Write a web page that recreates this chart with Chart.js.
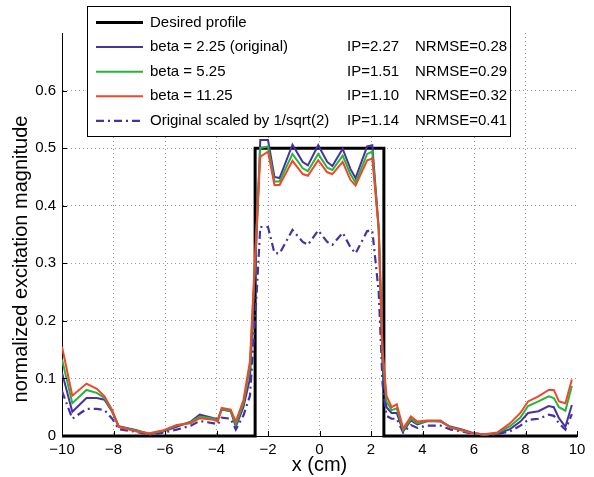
<!DOCTYPE html>
<html>
<head>
<meta charset="utf-8">
<script src="https://cdn.jsdelivr.net/npm/chart.js@4/dist/chart.umd.min.js"></script>
<style>
  html, body { margin: 0; padding: 0; background: #fff; }
  #wrap { width: 594px; height: 477px; position: relative; }
</style>
</head>
<body>
<div id="wrap"><canvas id="chart"></canvas></div>
<script>
// x positions (cm) shared by the four simulated profiles
const xs = [-10, -9.6, -9.05, -8.65, -8.35, -8.05, -7.8, -7.1, -6.6, -6.05,
  -5.55, -5.0, -4.65, -4.1, -3.95, -3.8, -3.45, -3.25, -2.95, -2.7,
  -2.45, -2.3, -2.0, -1.75, -1.55, -1.05, -0.65, -0.45, -0.05, 0.3,
  0.5, 0.9, 1.2, 1.4, 1.85, 2.05, 2.3, 2.45, 2.6, 2.8,
  3.0, 3.25, 3.55, 3.8, 4.2, 4.7, 5.1, 5.5, 5.9, 6.4,
  6.9, 7.4, 7.8, 8.1, 8.5, 8.9, 9.1, 9.3, 9.55, 9.8];

const beta225 = [0.11, 0.042, 0.066, 0.066, 0.063, 0.042, 0.017, 0.010, 0.003, 0.008,
  0.016, 0.025, 0.037, 0.031, 0.029, 0.046, 0.043, 0.016, 0.051, 0.10,
  0.34, 0.514, 0.514, 0.45, 0.448, 0.506, 0.476, 0.47, 0.505, 0.476,
  0.469, 0.499, 0.464, 0.448, 0.503, 0.505, 0.36, 0.12, 0.05, 0.04,
  0.04, 0.008, 0.027, 0.02, 0.026, 0.025, 0.016, 0.012, 0.006, 0.002,
  0.004, 0.012, 0.025, 0.04, 0.043, 0.052, 0.05, 0.031, 0.016, 0.054];

const beta525 = [0.133, 0.057, 0.080, 0.075, 0.066, 0.043, 0.016, 0.009, 0.004, 0.009,
  0.018, 0.024, 0.034, 0.030, 0.027, 0.047, 0.044, 0.020, 0.057, 0.12,
  0.35, 0.50, 0.503, 0.442, 0.442, 0.49, 0.465, 0.46, 0.49, 0.466,
  0.462, 0.487, 0.455, 0.44, 0.49, 0.494, 0.36, 0.14, 0.06, 0.045,
  0.048, 0.01, 0.03, 0.022, 0.026, 0.026, 0.015, 0.011, 0.005, 0.002,
  0.005, 0.017, 0.032, 0.052, 0.06, 0.069, 0.066, 0.05, 0.044, 0.087];

const beta1125 = [0.155, 0.07, 0.091, 0.082, 0.069, 0.045, 0.016, 0.008, 0.005, 0.010,
  0.019, 0.022, 0.031, 0.028, 0.025, 0.049, 0.046, 0.025, 0.063, 0.13,
  0.36, 0.485, 0.494, 0.436, 0.436, 0.478, 0.455, 0.452, 0.479, 0.458,
  0.455, 0.476, 0.445, 0.435, 0.479, 0.482, 0.36, 0.15, 0.07, 0.05,
  0.055, 0.013, 0.034, 0.025, 0.027, 0.027, 0.014, 0.01, 0.005, 0.003,
  0.006, 0.022, 0.04, 0.06, 0.069, 0.08, 0.08, 0.06, 0.057, 0.098];

const scaledOriginal = [0.078, 0.03, 0.047, 0.047, 0.045, 0.03, 0.012, 0.007, 0.002, 0.006,
  0.011, 0.018, 0.026, 0.022, 0.02, 0.032, 0.03, 0.011, 0.036, 0.07,
  0.24, 0.363, 0.363, 0.318, 0.317, 0.358, 0.337, 0.332, 0.357, 0.337,
  0.332, 0.353, 0.328, 0.317, 0.356, 0.357, 0.25, 0.09, 0.035, 0.03,
  0.03, 0.006, 0.019, 0.014, 0.018, 0.018, 0.011, 0.008, 0.004, 0.001,
  0.003, 0.008, 0.018, 0.028, 0.03, 0.037, 0.035, 0.022, 0.011, 0.038];

// desired rectangular profile
const desiredX = [-10, -2.5, -2.5, 2.5, 2.5, 10];
const desiredY = [0, 0, 0.5, 0.5, 0, 0];

const legendLabels = ['Desired profile', 'beta = 2.25 (original)', 'beta = 5.25',
  'beta = 11.25', 'Original scaled by 1/sqrt(2)'];
const ipValues = [null, 2.27, 1.51, 1.10, 1.14];
const nrmseValues = [null, 0.28, 0.29, 0.32, 0.41];

const yTitle = 'normalized excitation magnitude';
const xTitle = 'x (cm)';

const FONT = "'Liberation Sans', Arial, Helvetica, sans-serif";

function pairs(xv, yv) {
  return xv.map((x, i) => ({ x: x, y: yv[i] }));
}

const datasets = [
  { label: legendLabels[0], data: pairs(desiredX, desiredY), borderColor: '#000', borderWidth: 3, order: 4, clip: false },
  { label: legendLabels[1], data: pairs(xs, beta225), borderColor: '#4632a0', borderWidth: 2, order: 2 },
  { label: legendLabels[2], data: pairs(xs, beta525), borderColor: '#26b43a', borderWidth: 2, order: 1 },
  { label: legendLabels[3], data: pairs(xs, beta1125), borderColor: '#f0462a', borderWidth: 2, order: 0 },
  { label: legendLabels[4], data: pairs(xs, scaledOriginal), borderColor: '#4632a0', borderWidth: 2.2, borderDash: [8, 4, 2, 4], order: 3 }
];

// inward tick marks, y label, and the boxed legend with its extra columns
const extrasPlugin = {
  id: 'extras',
  afterDraw(chart) {
    const ctx = chart.ctx;
    const area = chart.chartArea;
    const xs_ = chart.scales.x, ys_ = chart.scales.y;
    ctx.save();
    ctx.strokeStyle = '#000';
    ctx.lineWidth = 1;
    ctx.beginPath();
    xs_.ticks.forEach(t => {
      const px = Math.round(xs_.getPixelForValue(t.value)) + 0.5;
      ctx.moveTo(px, area.bottom);
      ctx.lineTo(px, area.bottom - 5);
    });
    ys_.ticks.forEach(t => {
      if (t.value > 0.65) return;
      const py = Math.round(ys_.getPixelForValue(t.value)) + 0.5;
      ctx.moveTo(area.left, py);
      ctx.lineTo(area.left + 5, py);
    });
    ctx.stroke();

    // y axis label (sits a bit below the axis centre, as in the original)
    ctx.save();
    ctx.translate(21, 259);
    ctx.rotate(-Math.PI / 2);
    ctx.font = '20px ' + FONT;
    ctx.textAlign = 'center';
    ctx.textBaseline = 'middle';
    ctx.fillStyle = '#000';
    ctx.fillText(yTitle, 0, 0);
    ctx.restore();

    // legend box
    const bx = 87.5, by = 6.5, bw = 423, bh = 130;
    ctx.fillStyle = '#fff';
    ctx.fillRect(bx, by, bw, bh);
    ctx.strokeRect(bx, by, bw, bh);
    ctx.font = '15px ' + FONT;
    ctx.textBaseline = 'middle';
    ctx.fillStyle = '#000';
    chart.data.datasets.forEach((ds, i) => {
      const ry = 22.5 + i * 24.6;
      ctx.save();
      ctx.strokeStyle = ds.borderColor;
      ctx.lineWidth = ds.borderWidth;
      ctx.setLineDash(ds.borderDash || []);
      ctx.beginPath();
      ctx.moveTo(96, ry);
      ctx.lineTo(143, ry);
      ctx.stroke();
      ctx.restore();
      ctx.fillText(legendLabels[i], 150, ry);
      if (ipValues[i] != null) {
        ctx.fillText('IP=' + ipValues[i].toFixed(2), 347, ry);
        ctx.fillText('NRMSE=' + nrmseValues[i].toFixed(2), 415, ry);
      }
    });
    ctx.restore();
  }
};

new Chart(document.getElementById('chart'), {
  type: 'line',
  data: { datasets: datasets },
  options: {
    responsive: true,
    maintainAspectRatio: false,
    animation: false,
    layout: { padding: { top: 33, right: 17, left: 0, bottom: 0 } },
    elements: { point: { radius: 0 }, line: { tension: 0, fill: false } },
    plugins: { legend: { display: false }, tooltip: { enabled: false } },
    scales: {
      x: {
        type: 'linear', min: -10, max: 10,
        afterFit: s => { s.height = 41; },
        ticks: {
          stepSize: 2, padding: 5, color: '#000', font: { family: FONT, size: 15 },
          callback: v => (v < 0 ? '\u2212' + Math.abs(v) : String(v))
        },
        grid: {
          drawTicks: false,
          color: c => (c.tick && (c.tick.value === 10 || c.tick.value === -10) ? 'rgba(0,0,0,0)' : '#9a9a9a')
        },
        border: { display: true, color: '#000', width: 1, dash: [1, 3] },
        title: { display: true, text: xTitle, color: '#000', font: { family: FONT, size: 20 }, padding: { top: 0, bottom: 0 } }
      },
      y: {
        min: 0, max: 0.7,
        afterFit: s => { s.width = 62; },
        ticks: {
          stepSize: 0.1, padding: 6, color: '#000', font: { family: FONT, size: 15 },
          callback: v => (v > 0.65 ? '' : String(Number(v.toFixed(1))))
        },
        grid: {
          drawTicks: false,
          color: c => (c.tick && (c.tick.value > 0.65 || c.tick.value === 0) ? 'rgba(0,0,0,0)' : '#9a9a9a')
        },
        border: { display: true, color: '#000', width: 1, dash: [1, 3] }
      }
    }
  },
  plugins: [extrasPlugin]
});
</script>
</body>
</html>
